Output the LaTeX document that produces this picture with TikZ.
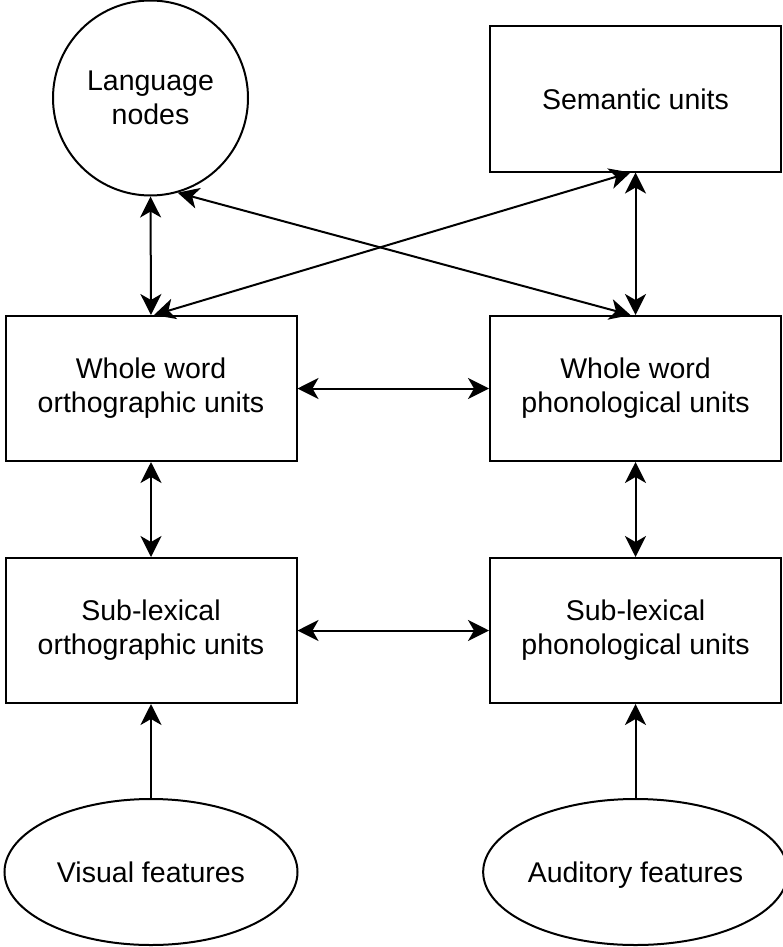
\documentclass[tikz,border=0pt]{standalone}
\usepackage{fontspec}
\setmainfont{Liberation Sans}
\usetikzlibrary{arrows.meta,shapes.geometric}
\begin{document}
\begin{tikzpicture}[x=1pt,y=-1pt,
  >={Stealth[length=21pt,width=21pt,inset=6pt]},
  every node/.style={line width=2pt, draw=black, align=center,
    font=\fontsize{28.5}{34.2}\selectfont, inner sep=0pt},
  unitbox/.style={rectangle, minimum width=291pt, minimum height=145pt},
  roundnode/.style={circle, minimum size=195pt},
  featnode/.style={ellipse, minimum width=293pt, minimum height=146pt,
    text height=20.4pt, text depth=0pt},
  link/.style={line width=2pt, <->},
  feed/.style={line width=2pt, ->}]
\useasboundingbox (0,0) rectangle (782,947);

% top row
\node[roundnode] (lang) at (150.5,98) {Language\\nodes};
\node[unitbox] (sem) at (635.5,99) {Semantic units};

% whole-word level
\node[unitbox] (wwo) at (151,388.5) {Whole word\\orthographic units};
\node[unitbox] (wwp) at (635.5,388.5) {Whole word\\phonological units};

% sub-lexical level
\node[unitbox] (slo) at (151,630.5) {Sub-lexical\\orthographic units};
\node[unitbox] (slp) at (635.5,630.5) {Sub-lexical\\phonological units};

% input features
\node[featnode] (vis) at (151,872) {Visual features};
\node[featnode] (aud) at (635.5,872) {Auditory features};

% vertical links
\draw[link] (lang.south) -- (wwo.north);
\draw[link] (sem.south) -- (wwp.north);
\draw[link] (wwo.south) -- (slo.north);
\draw[link] (wwp.south) -- (slp.north);

% crossing links
\draw[link] (lang.-74) -- ([xshift=-5pt]wwp.north);
\draw[link] ([xshift=3pt]wwo.north) -- ([xshift=-5pt]sem.south);

% horizontal links
\draw[link] (wwo.east) -- (wwp.west);
\draw[link] (slo.east) -- (slp.west);

% feature inputs
\draw[feed] (vis.north) -- (slo.south);
\draw[feed] (aud.north) -- (slp.south);
\end{tikzpicture}
\end{document}
